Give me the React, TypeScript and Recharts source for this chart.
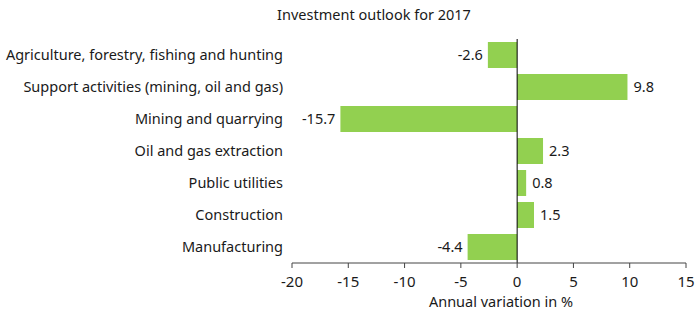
import { BarChart, Bar, XAxis, YAxis, ReferenceLine, LabelList } from "recharts";

const categories = [
  "Agriculture, forestry, fishing and hunting",
  "Support activities (mining, oil and gas)",
  "Mining and quarrying",
  "Oil and gas extraction",
  "Public utilities",
  "Construction",
  "Manufacturing",
];
const variation = [-2.6, 9.8, -15.7, 2.3, 0.8, 1.5, -4.4];
const xTicks = [-20, -15, -10, -5, 0, 5, 10, 15];

const data = categories.map((name, i) => ({ name, value: variation[i] }));

const FONT = "'Noto Sans', 'Open Sans', sans-serif";
const TEXT = "#1a1a1a";

function ValueLabel(props: any) {
  const { x, y, width, height, value } = props;
  const neg = value < 0;
  const left = Math.min(x, x + width);
  const right = Math.max(x, x + width);
  return (
    <text
      x={neg ? left - 5 : right + 6}
      y={y + height / 2 + 5}
      textAnchor={neg ? "end" : "start"}
      fontSize={14.5}
      fill={TEXT}
      fontFamily={FONT}
    >
      {value}
    </text>
  );
}

export default function App() {
  return (
    <div style={{ position: "absolute", left: 0, top: 0, width: 696, height: 312, background: "#fff" }}>
      <BarChart
        width={696}
        height={312}
        data={data}
        layout="vertical"
        margin={{ top: 39, right: 10, bottom: 0, left: 0 }}
        barSize={26}
      >
        <text x={374} y={20} textAnchor="middle" fontSize={14.5} fill={TEXT} fontFamily={FONT}>
          Investment outlook for 2017
        </text>
        <XAxis
          type="number"
          domain={[-20, 15]}
          ticks={xTicks}
          height={49}
          tick={{ fontSize: 15, fill: TEXT, fontFamily: FONT }}
          tickLine={{ stroke: "#444" }}
          axisLine={{ stroke: "#444" }}
          tickSize={5}
          tickMargin={8}
          label={{ value: "Annual variation in %", position: "insideBottom", offset: 5, dx: 12, fontSize: 14.5, fill: TEXT, fontFamily: FONT }}
        />
        <YAxis
          type="category"
          dataKey="name"
          width={292}
          axisLine={false}
          tickLine={false}
          tickMargin={3}
          interval={0}
          tick={{ fontSize: 14.5, fill: TEXT, fontFamily: FONT }}
        />
        <Bar dataKey="value" fill="#92d050" isAnimationActive={false}>
          <LabelList dataKey="value" content={ValueLabel} />
        </Bar>
        <ReferenceLine x={0} stroke="#000" strokeWidth={1} />
      </BarChart>
    </div>
  );
}
